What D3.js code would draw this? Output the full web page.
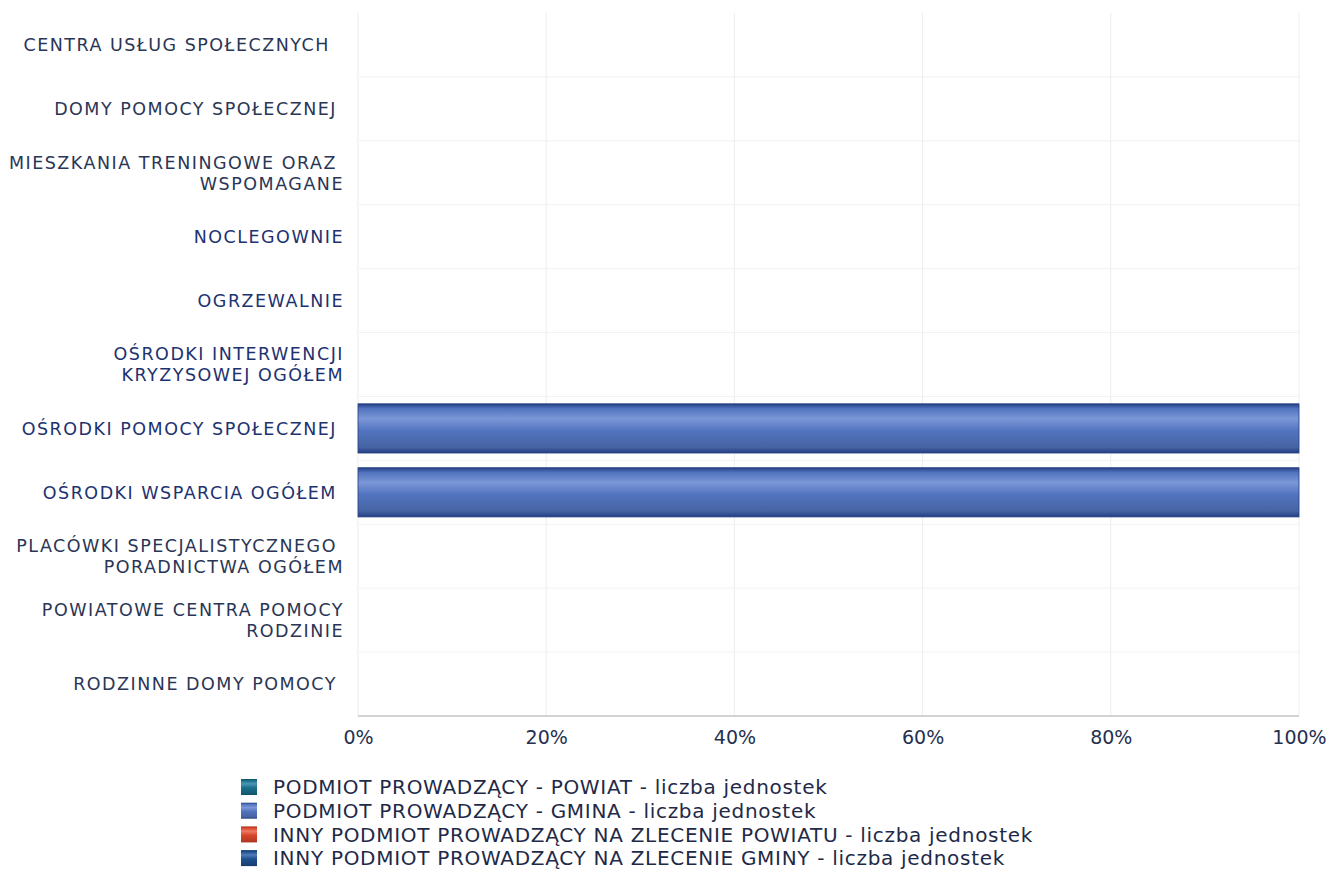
<!DOCTYPE html>
<html>
<head>
<meta charset="utf-8">
<script src="https://cdn.jsdelivr.net/npm/d3@7/dist/d3.min.js"></script>
<style>
  html, body { margin: 0; padding: 0; background: #fff; }
  svg { display: block; }
  .cat { white-space: pre; }
</style>
</head>
<body>
<svg id="chart" width="1338" height="872"></svg>
<script>
// Unit categories (top to bottom); "|" separates the two lines of a wrapped label
const categories = [
  "CENTRA USŁUG SPOŁECZNYCH  ",
  "DOMY POMOCY SPOŁECZNEJ ",
  "MIESZKANIA TRENINGOWE ORAZ |WSPOMAGANE",
  "NOCLEGOWNIE",
  "OGRZEWALNIE",
  "OŚRODKI INTERWENCJI|KRYZYSOWEJ OGÓŁEM",
  "OŚRODKI POMOCY SPOŁECZNEJ ",
  "OŚRODKI WSPARCIA OGÓŁEM ",
  "PLACÓWKI SPECJALISTYCZNEGO |PORADNICTWA OGÓŁEM",
  "POWIATOWE CENTRA POMOCY|RODZINIE",
  "RODZINNE DOMY POMOCY "
];

// Series names (legend order = stacking order)
const seriesNames = [
  "PODMIOT PROWADZĄCY - POWIAT - liczba jednostek",
  "PODMIOT PROWADZĄCY - GMINA - liczba jednostek",
  "INNY PODMIOT PROWADZĄCY NA ZLECENIE POWIATU - liczba jednostek",
  "INNY PODMIOT PROWADZĄCY NA ZLECENIE GMINY - liczba jednostek"
];

// Number of units per category for each series
const powiatValues         = [0, 0, 0, 0, 0, 0, 0, 0, 0, 0, 0];
const gminaValues          = [0, 0, 0, 0, 0, 0, 1, 1, 0, 0, 0];
const zleceniePowiatValues = [0, 0, 0, 0, 0, 0, 0, 0, 0, 0, 0];
const zlecenieGminyValues  = [0, 0, 0, 0, 0, 0, 0, 0, 0, 0, 0];

const tickValues = [0, 0.2, 0.4, 0.6, 0.8, 1.0];
const tickLabels = ["0%", "20%", "40%", "60%", "80%", "100%"];

const seriesColors = ["#1b6e8a", "#5274bf", "#d8452b", "#1d4f8e"];
const seriesDark   = ["#0f4f66", "#243f82", "#a8301c", "#123a6c"];
const seriesLight  = ["#4a97b2", "#7b97d6", "#ee7a62", "#4f7cb8"];

const svg = d3.select("#chart");
const margin = { left: 358, right: 1299, top: 13, bottom: 716 };

const x = d3.scaleLinear().domain([0, 1]).range([margin.left, margin.right]);
const y = d3.scaleBand().domain(d3.range(categories.length))
  .range([margin.top, margin.bottom]).paddingInner(0.23).paddingOuter(0.115);
const yBand = d3.scaleBand().domain(d3.range(categories.length))
  .range([margin.top, margin.bottom]);

// Gradients for the cylinder-like bars
const defs = svg.append("defs");
seriesColors.forEach((c, i) => {
  const g = defs.append("linearGradient").attr("id", "grad" + i)
    .attr("x1", 0).attr("y1", 0).attr("x2", 0).attr("y2", 1);
  g.append("stop").attr("offset", "0%").attr("stop-color", seriesDark[i]);
  g.append("stop").attr("offset", "10%").attr("stop-color", c);
  g.append("stop").attr("offset", "30%").attr("stop-color", seriesLight[i]);
  g.append("stop").attr("offset", "55%").attr("stop-color", c);
  g.append("stop").attr("offset", "88%").attr("stop-color", d3.color(c).darker(0.45));
  g.append("stop").attr("offset", "100%").attr("stop-color", seriesDark[i]);
});

// Grid
const grid = svg.append("g");
grid.selectAll("line.v").data(tickValues).join("line")
  .attr("x1", d => x(d)).attr("x2", d => x(d))
  .attr("y1", margin.top).attr("y2", margin.bottom)
  .attr("stroke", "#ededed").attr("stroke-width", 1);
grid.selectAll("line.h").data(d3.range(1, categories.length)).join("line")
  .attr("x1", margin.left).attr("x2", margin.right)
  .attr("y1", d => yBand(d)).attr("y2", d => yBand(d))
  .attr("stroke", "#f2f2f2").attr("stroke-width", 1);

// Stack data (100% stacked)
const rows = categories.map((c, i) => ({
  i,
  s0: powiatValues[i], s1: gminaValues[i], s2: zleceniePowiatValues[i], s3: zlecenieGminyValues[i]
}));
const stack = d3.stack().keys(["s0", "s1", "s2", "s3"]).offset(d3.stackOffsetExpand);
const stacked = stack(rows);

stacked.forEach((layer, si) => {
  svg.append("g").selectAll("rect").data(layer.filter(d => (d[1] - d[0]) > 0 && !isNaN(d[1])))
    .join("rect")
    .attr("x", d => x(d[0]))
    .attr("width", d => x(d[1]) - x(d[0]))
    .attr("y", d => y(d.data.i))
    .attr("height", y.bandwidth())
    .attr("fill", "url(#grad" + si + ")")
    .attr("stroke", seriesDark[si]).attr("stroke-width", 0.8);
});

// Bottom axis line
svg.append("line")
  .attr("x1", margin.left).attr("x2", margin.right)
  .attr("y1", margin.bottom).attr("y2", margin.bottom)
  .attr("stroke", "#c4c4c4").attr("stroke-width", 1.5);

// X axis
const xAxis = d3.axisBottom(x).tickValues(tickValues)
  .tickFormat((d, i) => tickLabels[i]).tickSize(0).tickPadding(15);
const gx = svg.append("g").attr("transform", `translate(0,${margin.bottom})`).call(xAxis);
gx.select(".domain").remove();
gx.selectAll("text").attr("font-family", "'DejaVu Sans', sans-serif")
  .attr("font-size", 19).attr("fill", "#24304f");

// Category labels
const labels = svg.append("g");
categories.forEach((c, i) => {
  const lines = c.split("|");
  const cy = yBand(i) + yBand.bandwidth() / 2;
  const lh = 21;
  const t = labels.append("text")
    .attr("class", "cat")
    .attr("text-anchor", "end")
    .attr("font-family", "'DejaVu Sans', sans-serif")
    .attr("font-size", 17.5)
    .attr("letter-spacing", 1.5)
    .attr("fill", i >= 3 && i <= 7 ? "#1d3270" : "#2a3655");
  lines.forEach((l, k) => {
    t.append("tspan").attr("x", 344)
      .attr("y", cy + (k - (lines.length - 1) / 2) * lh)
      .attr("dy", "0.36em").text(l);
  });
});

// Legend
const legend = svg.append("g");
seriesNames.forEach((n, i) => {
  const ly = 787 + i * 23.7;
  legend.append("rect").attr("x", 241).attr("y", ly - 8).attr("width", 16).attr("height", 16)
    .attr("fill", "url(#grad" + i + ")");
  legend.append("text").attr("x", 273).attr("y", ly).attr("dy", "0.36em")
    .attr("font-family", "'DejaVu Sans', sans-serif").attr("font-size", 20)
    .attr("letter-spacing", 0.7)
    .attr("fill", "#1f2a48").text(n);
});
</script>
</body>
</html>
